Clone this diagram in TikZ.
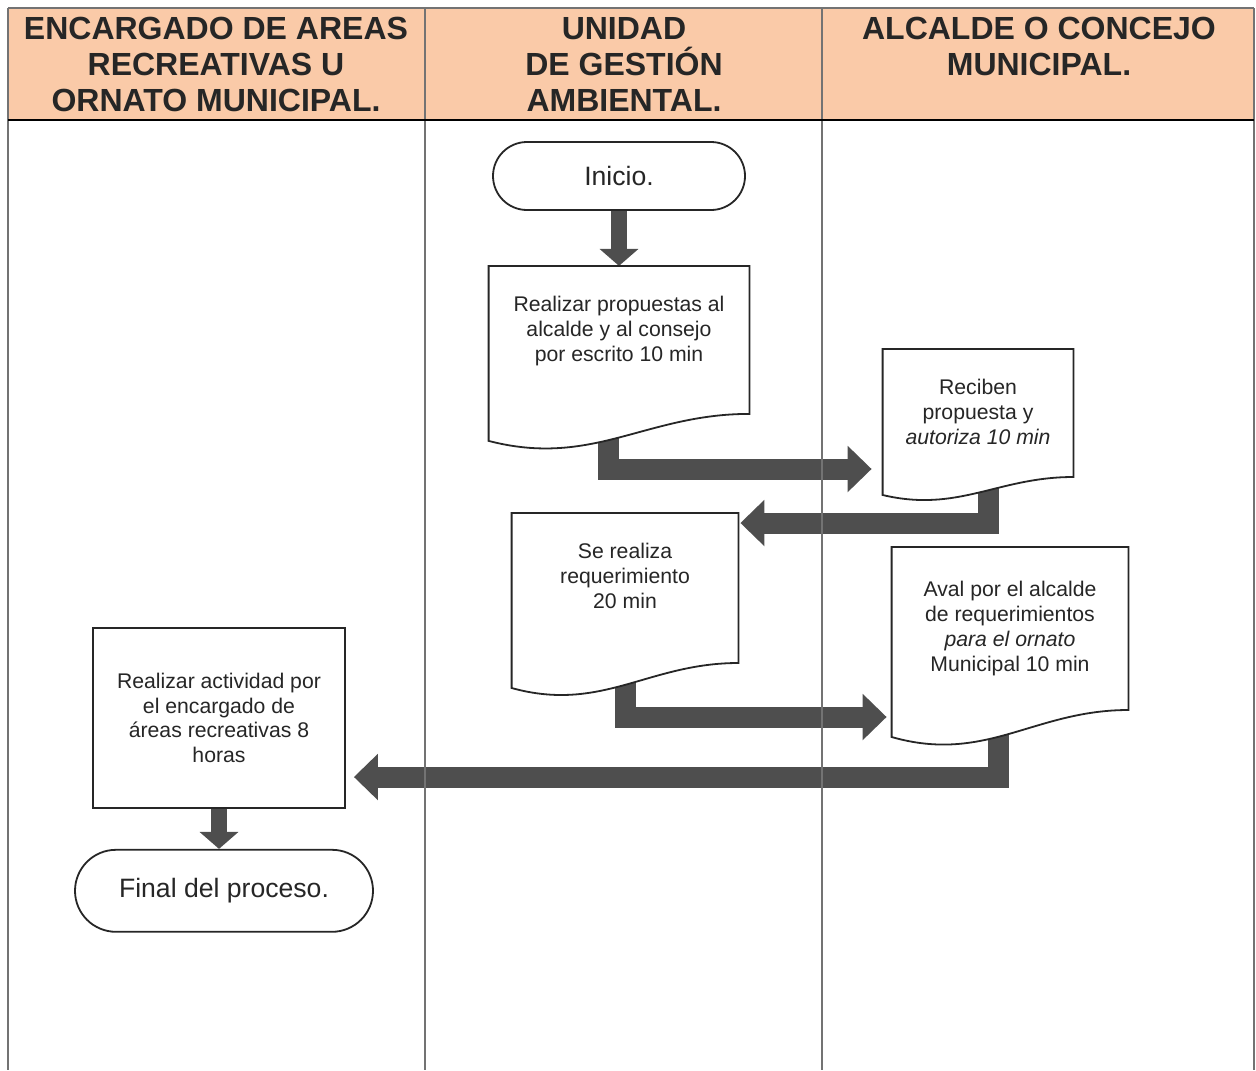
\documentclass[tikz,border=0pt]{standalone}
\usepackage{fontspec}
\setmainfont{Liberation Sans}
\usetikzlibrary{arrows.meta,positioning,calc}
\definecolor{headfill}{RGB}{250,202,168}
\definecolor{flowgray}{RGB}{78,78,78}
\pgfdeclarelayer{flowlayer}
\pgfdeclarelayer{doclayer}
\pgfsetlayers{flowlayer,doclayer,main}
\tikzstyle{lane}=[draw=black!55,line width=0.6pt]
\tikzstyle{head}=[anchor=north,inner sep=0pt,align=center,text=black!85,font=\fontsize{16}{18}\selectfont\bfseries]
\tikzstyle{terminal}=[rectangle,draw=black!85,fill=white,line width=0.9pt,text=black!85,font=\fontsize{13.3}{15}\selectfont]
\tikzstyle{docbox}=[rectangle,anchor=north,inner xsep=0pt,inner ysep=15pt,align=center,text=black!85,font=\fontsize{10.6}{12.5}\selectfont]
\tikzstyle{procbox}=[rectangle,draw=black!85,fill=white,line width=0.9pt,align=center,text=black!85,font=\fontsize{10.6}{12.25}\selectfont]
\tikzstyle{docline}=[draw=black!85,fill=white,line width=0.9pt]
\tikzstyle{hflow}=[-{Triangle[width=22.5pt,length=12pt]},line width=10.5pt,draw=flowgray]
\tikzstyle{vflow}=[-{Triangle[width=19pt,length=8.5pt]},line width=8pt,draw=flowgray]
% outline of a document box: node, width, height at left, rise at right (px)
\newcommand{\docoutline}[4]{%
  \draw [docline] (#1.north west) -- (#1.north east) -- ++(0,#3-#4)
    .. controls +(-0.4*#2,0) and +(0.4*#2,#4) .. ($(#1.north west)+(0,#3)$) -- cycle ;}

\begin{document}
\begin{tikzpicture}[x=0.5pt,y=-0.5pt]
\useasboundingbox (0,0) rectangle (1256,1070) ;

% lanes
\fill [headfill] (8,8) rectangle (1254,120) ;
\draw [lane] (8,8) -- (1254,8) ;
\foreach \x in {8,425,822,1254}
  \draw [lane] (\x,8) -- (\x,1070) ;
\draw [line width=1.2pt] (8,120) -- (1254,120) ;

\node (encargado) [head] at (216,17) {ENCARGADO DE AREAS\\RECREATIVAS U\\ORNATO MUNICIPAL.} ;
\node (unidad) [head] at (624,17) {UNIDAD\\DE GESTIÓN\\AMBIENTAL.} ;
\node (alcalde) [head] at (1039,17) {ALCALDE O CONCEJO\\MUNICIPAL.} ;

% steps
\node (inicio) [terminal,minimum width=126pt,minimum height=34pt,rounded corners=17pt] at (619,176) {Inicio.} ;
\node (doc1) [docbox,minimum width=130pt,below=27.5pt of inicio] {Realizar propuestas al\\alcalde y al consejo\\por escrito 10 min} ;
\node (doc2) [docbox,minimum width=95pt] at (978,349) {Reciben\\propuesta y\\\textit{autoriza 10 min}} ;
\node (doc3) [docbox,minimum width=113pt] at (625,513) {Se realiza\\requerimiento\\20 min} ;
\node (doc4) [docbox,minimum width=118pt,inner ysep=17pt] at (1010,547) {Aval por el alcalde\\de requerimientos\\\textit{para el ornato}\\Municipal 10 min} ;
\node (act) [procbox,minimum width=126pt,minimum height=90pt] at (219,718) {Realizar actividad por\\el encargado de\\áreas recreativas 8\\horas} ;
\node (final) [terminal,minimum width=149pt,minimum height=41pt,rounded corners=20.5pt,below=20pt of act,xshift=2.5pt] {Final del proceso.} ;

\begin{pgfonlayer}{doclayer}
\docoutline{doc1}{260}{175}{27}
\docoutline{doc2}{190}{146}{18}
\docoutline{doc3}{226}{175}{25}
\docoutline{doc4}{236}{190}{27}
\end{pgfonlayer}

% flow
\begin{pgfonlayer}{flowlayer}
\draw [vflow] (inicio.south) -- (inicio.south |- doc1.north) ;
\draw [hflow] ($(doc1.north)+(-11,150)$) |- ($(doc2.north west)+(-11,120)$) ;
\draw [hflow] ($(doc2.north)+(10,120)$) |- ($(doc3.north east)+(2,10)$) ;
\draw [hflow] ($(doc3.north)+(0,150)$) |- ($(doc4.north west)+(-5,170)$) ;
\draw [hflow] ($(doc4.north)+(-12,160)$) |- ($(act.east)+(8,59)$) ;
\draw [vflow] (act.south) -- (act.south |- final.north) ;
\end{pgfonlayer}

\end{tikzpicture}
\end{document}
